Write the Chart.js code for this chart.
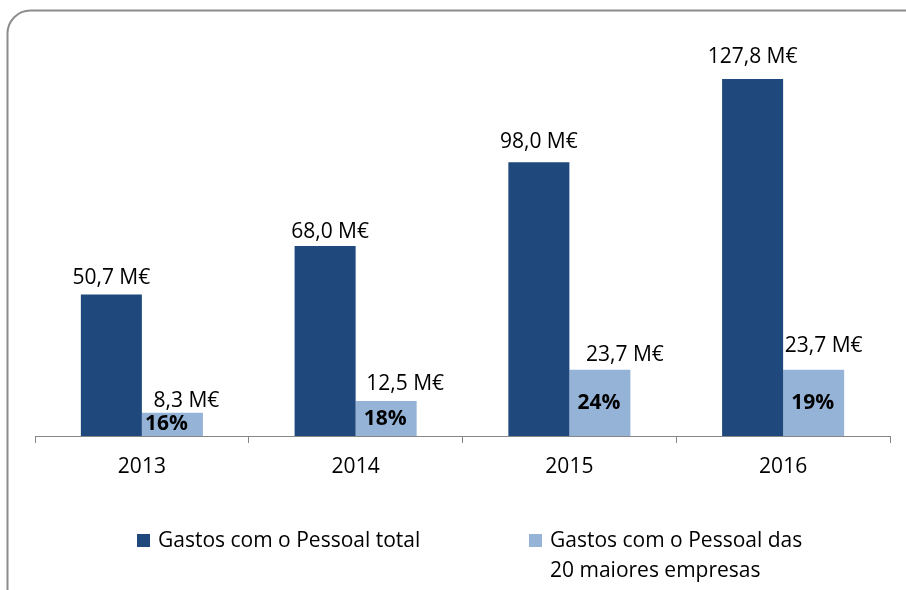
<!DOCTYPE html>
<html>
<head>
<meta charset="utf-8">
<script src="https://cdn.jsdelivr.net/npm/chart.js@4"></script>
<style>
  html, body { margin: 0; padding: 0; background: #ffffff; }
  canvas { display: block; }
</style>
</head>
<body>
<canvas id="c" width="906" height="590"></canvas>
<script>
// Categories and series values (M€)
const years = ['2013', '2014', '2015', '2016'];
const totalStaffCosts = [50.7, 68.0, 98.0, 127.8];
const top20StaffCosts = [8.3, 12.5, 23.7, 23.7];
const top20Share = ['16%', '18%', '24%', '19%'];
const seriesNames = ['Gastos com o Pessoal total', 'Gastos com o Pessoal das 20 maiores empresas'];

const DARK = '#1F497D';
const LIGHT = '#95B3D7';
const AXIS = '#868686';
const FONT = '"Open Sans", "Noto Sans", sans-serif';

// Small per-label nudges (px) for the value captions: [dx, dy above bar top]
const captionNudge = [
  [[0, -10], [5, -8], [0, -14], [0, -16]],
  [[14, -6], [19, -11], [25, -9], [10, -18]]
];

function fmt(v) {
  return v.toFixed(1).replace('.', ',') + ' M€';
}

// Rounded frame around the whole figure
const framePlugin = {
  id: 'frame',
  beforeDraw(chart) {
    const ctx = chart.ctx;
    const x = 7.5, y = 10.5, w = 960, h = 640, r = 23;
    ctx.save();
    ctx.fillStyle = '#ffffff';
    ctx.fillRect(0, 0, chart.width, chart.height);
    ctx.beginPath();
    ctx.moveTo(x + r, y);
    ctx.lineTo(x + w, y);
    ctx.moveTo(x + r, y);
    ctx.arcTo(x, y, x, y + r, r);
    ctx.lineTo(x, y + h);
    ctx.strokeStyle = '#8c8c8c';
    ctx.lineWidth = 2;
    ctx.stroke();
    ctx.restore();
  }
};

// Value captions above bars and share percentages inside the lighter bars
const captionPlugin = {
  id: 'captions',
  afterDatasetsDraw(chart) {
    const ctx = chart.ctx;
    ctx.save();
    ctx.fillStyle = '#000000';
    ctx.textAlign = 'center';
    ctx.textBaseline = 'alphabetic';
    chart.data.datasets.forEach((ds, di) => {
      const meta = chart.getDatasetMeta(di);
      meta.data.forEach((bar, i) => {
        const n = captionNudge[di][i];
        ctx.font = '21px ' + FONT;
        ctx.fillText(fmt(ds.data[i]), bar.x + n[0], bar.y + n[1]);
        if (di === 1) {
          ctx.font = 'bold 21px ' + FONT;
          ctx.textBaseline = 'middle';
          const cy = (bar.y + bar.base) / 2;
          ctx.fillText(top20Share[i], bar.x - (i === 0 ? 6 : 1), cy);
          ctx.textBaseline = 'alphabetic';
        }
      });
    });
    ctx.restore();
  }
};

// Legend below the axis, the second entry wrapping onto two lines
const legendPlugin = {
  id: 'bottomLegend',
  afterDraw(chart) {
    const ctx = chart.ctx;
    ctx.save();
    ctx.font = '21px ' + FONT;
    ctx.fillStyle = '#000000';
    ctx.textAlign = 'left';
    ctx.textBaseline = 'alphabetic';
    const entries = [
      { color: DARK, x: 137, lines: [seriesNames[0]] },
      { color: LIGHT, x: 529, lines: ['Gastos com o Pessoal das', '20 maiores empresas'] }
    ];
    entries.forEach(e => {
      ctx.fillStyle = e.color;
      ctx.fillRect(e.x, 534, 13, 13);
      ctx.fillStyle = '#000000';
      e.lines.forEach((t, k) => ctx.fillText(t, e.x + 21, 547 + k * 30));
    });
    ctx.restore();
  }
};

new Chart(document.getElementById('c'), {
  type: 'bar',
  data: {
    labels: years,
    datasets: [
      { label: seriesNames[0], data: totalStaffCosts, backgroundColor: DARK },
      { label: seriesNames[1], data: top20StaffCosts, backgroundColor: LIGHT }
    ]
  },
  options: {
    responsive: false,
    animation: false,
    devicePixelRatio: 1,
    layout: { padding: { left: 35, right: 16, top: 45, bottom: 0 } },
    datasets: {
      bar: { categoryPercentage: 0.571, barPercentage: 1.0 }
    },
    plugins: {
      legend: { display: false },
      tooltip: { enabled: false }
    },
    scales: {
      x: {
        offset: true,
        grid: {
          offset: true,
          drawOnChartArea: false,
          drawTicks: true,
          tickLength: 7,
          color: AXIS,
          lineWidth: 1
        },
        border: { display: true, color: AXIS, width: 1 },
        ticks: {
          color: '#000000',
          font: { family: FONT, size: 21 },
          padding: 11
        },
        afterFit(scale) { scale.height = 154; }
      },
      y: {
        display: false,
        min: 0,
        max: 140
      }
    }
  },
  plugins: [framePlugin, captionPlugin, legendPlugin]
});
</script>
</body>
</html>
